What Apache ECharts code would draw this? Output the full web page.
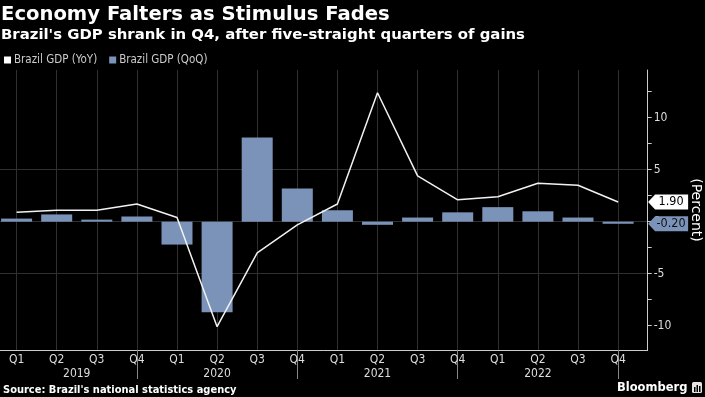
<!DOCTYPE html>
<html>
<head>
<meta charset="utf-8">
<script src="https://cdn.jsdelivr.net/npm/echarts@6/dist/echarts.min.js"></script>
<style>
  html, body { margin: 0; padding: 0; background: #000; }
  #chart { width: 705px; height: 397px; }
</style>
</head>
<body>
<div id="chart"></div>
<script>
// quarters Q1 2019 .. Q4 2022
const quarters = ['Q1', 'Q2', 'Q3', 'Q4', 'Q1', 'Q2', 'Q3', 'Q4', 'Q1', 'Q2', 'Q3', 'Q4', 'Q1', 'Q2', 'Q3', 'Q4'];
const years = ['2019', '2020', '2021', '2022'];
const yoy = [0.9, 1.1, 1.1, 1.7, 0.4, -10.1, -3.0, -0.3, 1.7, 12.4, 4.4, 2.1, 2.4, 3.7, 3.5, 1.9];
const qoq = [0.3, 0.7, 0.2, 0.5, -2.2, -8.7, 8.1, 3.2, 1.1, -0.3, 0.4, 0.9, 1.4, 1.0, 0.4, -0.2];
const yLabels = [-10, -5, 0, 5, 10];
const yMinorTicks = [-7.5, -2.5, 2.5, 7.5, 12.5];

const yMin = -12.34;
const yMax = 14.59;
const barColor = '#7b93b8';
const gridColor = '#303030';
const axisColor = '#cccccc';
const labelColor = '#dddddd';
const narrow = '"DejaVu Sans Condensed", "DejaVu Sans", sans-serif';
const wide = '"DejaVu Sans", sans-serif';

// year labels sit in the middle of each year block, separators on Q4
const yearLabelPos = [1.5, 5, 9, 13];
const yearTickPos = [3, 7, 11, 15];

const tagPath = 'path://M0,7L7,0L40,0L40,14L7,14Z';
const last = quarters.length - 1;

const chart = echarts.init(document.getElementById('chart'));

const option = {
  backgroundColor: '#000',
  animation: false,
  title: {
    text: 'Economy Falters as Stimulus Fades',
    subtext: "Brazil's GDP shrank in Q4, after five-straight quarters of gains",
    left: 1,
    top: 5,
    padding: 0,
    itemGap: 3,
    textStyle: { color: '#fff', fontFamily: wide, fontWeight: 'bold', fontSize: 19.6 },
    subtextStyle: { color: '#fff', fontFamily: wide, fontWeight: 'bold', fontSize: 14.9 }
  },
  legend: {
    left: 4,
    top: 54,
    padding: 0,
    icon: 'rect',
    itemWidth: 7,
    itemHeight: 7,
    itemGap: 12,
    textStyle: { color: '#cccccc', fontFamily: narrow, fontSize: 11.5, padding: [0, 0, 0, -2] },
    data: ['Brazil GDP (YoY)', 'Brazil GDP (QoQ)']
  },
  grid: [
    // data grid: category centres at the two ends
    { left: 16.6, right: 86.9, top: 70, bottom: 47, outerBoundsMode: 'none' },
    // frame grid: right axis and horizontal gridlines
    { left: 0, right: 57.3, top: 70, bottom: 47, outerBoundsMode: 'none' }
  ],
  xAxis: [
    {
      gridIndex: 0,
      type: 'category',
      data: quarters,
      boundaryGap: false,
      axisLine: { show: false, onZero: false },
      axisTick: { show: false },
      axisLabel: { color: labelColor, fontFamily: narrow, fontSize: 12, margin: 4, interval: 0 },
      splitLine: { show: true, lineStyle: { color: gridColor, width: 1 } }
    },
    {
      gridIndex: 0,
      type: 'value',
      min: 0,
      max: last,
      position: 'bottom',
      axisLine: { show: false, onZero: false },
      axisTick: { show: true, length: 29, customValues: yearTickPos, lineStyle: { color: '#888' } },
      axisLabel: {
        customValues: yearLabelPos,
        margin: 18,
        color: labelColor,
        fontFamily: narrow,
        fontSize: 12,
        formatter: function (v) {
          const i = yearLabelPos.indexOf(v);
          return i >= 0 ? years[i] : '';
        }
      },
      splitLine: { show: false }
    },
    {
      gridIndex: 1,
      type: 'value',
      min: 0,
      max: 1,
      axisLine: { show: true, onZero: false, lineStyle: { color: axisColor } },
      axisTick: { show: false },
      axisLabel: { show: false },
      splitLine: { show: false }
    }
  ],
  yAxis: [
    {
      // only carries the in-between ticks, pushed out to the frame's axis line
      gridIndex: 0,
      type: 'value',
      position: 'right',
      offset: 29.6,
      min: yMin,
      max: yMax,
      axisLine: { show: false, onZero: false },
      axisTick: { show: true, length: 4, customValues: yMinorTicks, lineStyle: { color: axisColor } },
      axisLabel: { show: false },
      splitLine: { show: false }
    },
    {
      gridIndex: 1,
      type: 'value',
      position: 'right',
      min: yMin,
      max: yMax,
      axisLine: { show: true, onZero: false, lineStyle: { color: axisColor } },
      axisTick: { show: true, length: 4, customValues: yLabels, lineStyle: { color: axisColor } },
      axisLabel: {
        customValues: yLabels,
        margin: 6,
        color: labelColor,
        fontFamily: narrow,
        fontSize: 12
      },
      splitLine: { show: true, showMinLine: false, showMaxLine: false, lineStyle: { color: gridColor } },
      name: '(Percent)',
      nameLocation: 'middle',
      nameRotate: -90,
      nameGap: 41,
      nameTextStyle: { color: '#fff', fontFamily: wide, fontSize: 14 }
    }
  ],
  series: [
    {
      name: 'Brazil GDP (QoQ)',
      type: 'bar',
      xAxisIndex: 0,
      yAxisIndex: 0,
      data: qoq,
      barWidth: 31,
      clip: false,
      itemStyle: { color: barColor },
      markPoint: {
        symbol: tagPath,
        symbolSize: [40, 15],
        symbolKeepAspect: false,
        symbolOffset: [50, 0],
        itemStyle: { color: barColor },
        label: {
          show: true, position: 'inside', offset: [3, 0],
          color: '#111', fontFamily: narrow, fontSize: 12.5,
          formatter: qoq[last].toFixed(2)
        },
        data: [{ coord: [last, qoq[last]] }]
      }
    },
    {
      name: 'Brazil GDP (YoY)',
      type: 'line',
      xAxisIndex: 0,
      yAxisIndex: 0,
      data: yoy,
      showSymbol: false,
      symbol: 'none',
      clip: false,
      z: 5,
      itemStyle: { color: '#ffffff' },
      lineStyle: { color: '#f2f2f2', width: 1.5 },
      markPoint: {
        symbol: tagPath,
        symbolSize: [40, 15],
        symbolKeepAspect: false,
        symbolOffset: [50, 0],
        itemStyle: { color: '#ffffff' },
        label: {
          show: true, position: 'inside', offset: [3, 0],
          color: '#000', fontFamily: narrow, fontSize: 12.5,
          formatter: yoy[last].toFixed(2)
        },
        data: [{ coord: [last, yoy[last]] }]
      }
    }
  ],
  graphic: [
    {
      type: 'text',
      left: 3,
      top: 385,
      style: {
        text: "Source: Brazil's national statistics agency",
        fill: '#fff',
        font: 'bold 11px ' + narrow
      }
    },
    {
      type: 'text',
      left: 617,
      top: 382,
      style: { text: 'Bloomberg', fill: '#fff', font: 'bold 11.5px ' + wide }
    },
    {
      type: 'group',
      left: 692,
      top: 382,
      children: [
        { type: 'rect', shape: { x: 0, y: 0, width: 10, height: 11, r: 1.5 }, style: { fill: '#e6e6e6' } },
        { type: 'rect', shape: { x: 2, y: 5, width: 1.5, height: 5 }, style: { fill: '#000' } },
        { type: 'rect', shape: { x: 4.5, y: 3, width: 1.5, height: 7 }, style: { fill: '#000' } },
        { type: 'rect', shape: { x: 7, y: 4, width: 1.5, height: 6 }, style: { fill: '#000' } }
      ]
    }
  ]
};

chart.setOption(option);
</script>
</body>
</html>
